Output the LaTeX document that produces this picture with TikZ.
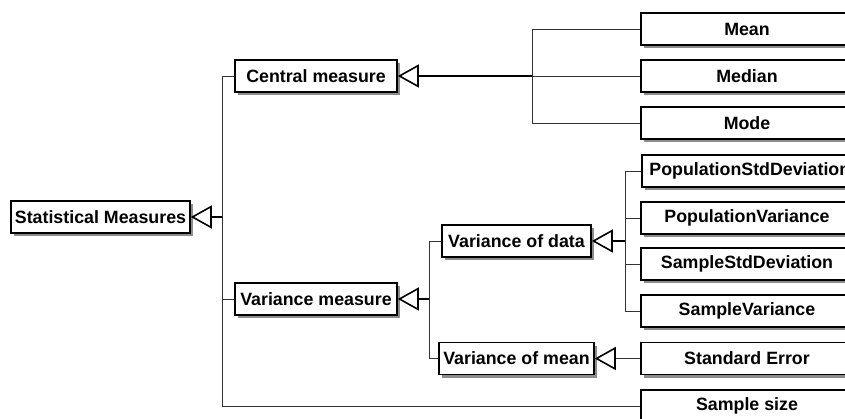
\documentclass[tikz,border=0pt]{standalone}
\usepackage{fontspec}
\setmainfont{Liberation Sans}
\usetikzlibrary{arrows.meta,shadows}
\tikzset{
  box/.style={draw=black, line width=1.6pt, fill=white, minimum height=32pt, inner sep=0pt,
    font=\fontsize{17.8}{20}\selectfont\bfseries,
    drop shadow={shadow xshift=3pt, shadow yshift=-3pt, fill=black!45, opacity=1}},
  conn/.style={draw=black!80, line width=0.9pt},
  stub/.style={draw=black, line width=1.6pt, -{Triangle[open, length=21pt, width=23pt, line width=1.6pt]}},
}
\begin{document}
\begin{tikzpicture}[x=1pt,y=-1pt]
\useasboundingbox (0,0) rectangle (845,419);
\clip (0,0) rectangle (845,419);
\fill[white] (0,0) rectangle (845,419);
% nodes
\node[box, minimum width=179pt] (SM) at (100.5,217) {Statistical Measures};
\node[box, minimum width=162pt] (CM) at (316,76) {Central measure};
\node[box, minimum width=162pt] (VM) at (316,299) {Variance measure};
\node[box, minimum width=149pt] (VD) at (516.5,241) {Variance of data};
\node[box, minimum width=155pt] (VMn) at (516.5,358.5) {Variance of mean};
\node[box, minimum width=212pt] (Mean) at (747,29) {Mean};
\node[box, minimum width=212pt] (Median) at (747,76) {Median};
\node[box, minimum width=212pt] (Mode) at (747,123) {Mode};
\node[box, minimum width=212pt, anchor=west] (PSD) at (641,171) {\hspace{4pt}PopulationStdDeviation\hfill};
\node[box, minimum width=212pt] (PV) at (747,218) {PopulationVariance};
\node[box, minimum width=212pt] (SSD) at (747,264) {SampleStdDeviation};
\node[box, minimum width=212pt] (SV) at (747,311) {SampleVariance};
\node[box, minimum width=212pt] (SE) at (747,358.5) {Standard Error};
\node[box, minimum width=212pt] (SS) at (747,406) {Sample size};
% junctions
\coordinate (jSM) at (222,217);
\coordinate (jCM) at (532,76);
\coordinate (jVM) at (429,299);
\coordinate (jVD) at (625,241);
% connectors
\draw[conn] (CM.west) -| (jSM);
\draw[conn] (VM.west) -| (jSM);
\draw[conn] (SS.west) -| (jSM);
\draw[conn] (Mean.west) -| (jCM);
\draw[conn] (Median.west) -- (jCM);
\draw[conn] (Mode.west) -| (jCM);
\draw[conn] (VD.west) -| (jVM);
\draw[conn] (VMn.west) -| (jVM);
\draw[conn] (PSD.west) -| (jVD);
\draw[conn] (PV.west) -| (jVD);
\draw[conn] (SSD.west) -| (jVD);
\draw[conn] (SV.west) -| (jVD);
% stubs with hollow triangles
\draw[stub] (jSM) -- (SM.east);
\draw[stub] (jCM) -- (CM.east);
\draw[stub] (jVM) -- (VM.east);
\draw[stub] (jVD) -- (VD.east);
\draw[stub, draw=black!80, line width=0.9pt, -{Triangle[open, length=21pt, width=23pt, line width=1.6pt, color=black]}] (SE.west) -- (VMn.east);
\end{tikzpicture}
\end{document}
